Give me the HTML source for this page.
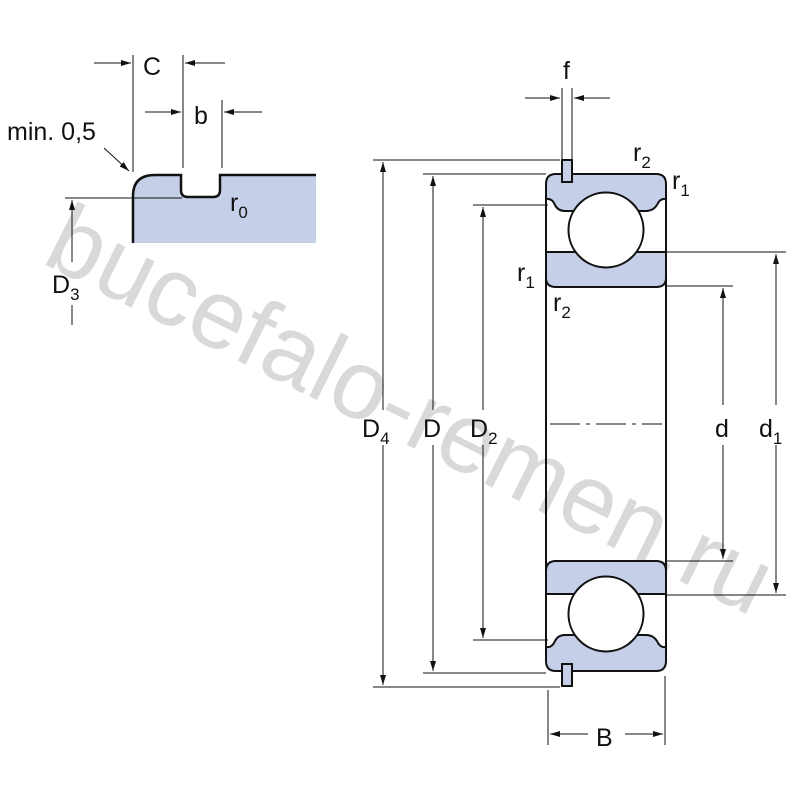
<!DOCTYPE html>
<html><head><meta charset="utf-8"><style>
html,body{margin:0;padding:0;background:#fff;}
svg{display:block;}
text{font-family:"Liberation Sans",sans-serif;fill:#111;}
</style></head><body>
<svg width="800" height="800" viewBox="0 0 800 800" xmlns="http://www.w3.org/2000/svg">
<defs>
<marker id="a" markerWidth="10" markerHeight="6" refX="10" refY="3" orient="auto" markerUnits="userSpaceOnUse"><path d="M0,0 L10,3 L0,6 Z" fill="#111"/></marker>
</defs>
<text x="0" y="0" font-size="98" transform="translate(40,262) rotate(26.5)" style="fill:#d9d9d9">bucefalo-remen.ru</text>

<path d="M133,243 L133,196 Q133,175 155,175 L181,175 L181,190 Q181,197 188,197 L213,197 Q220,197 220,190 L220,175 L316,175 L316,243 Z" fill="#c5d0e8"/>
<path d="M133,243 L133,196 Q133,175 155,175 L181,175 L181,190 Q181,197 188,197 L213,197 Q220,197 220,190 L220,175 L316,175" fill="none" stroke="#111" stroke-width="2.5"/>
<g stroke="#111" stroke-width="1" fill="none">
<line x1="133" y1="55" x2="133" y2="172"/>
<line x1="183" y1="55" x2="183" y2="168"/>
<line x1="222" y1="100" x2="222" y2="168"/>
<line x1="94" y1="63" x2="131" y2="63" marker-end="url(#a)"/>
<line x1="225" y1="63" x2="185" y2="63" marker-end="url(#a)"/>
<line x1="145" y1="112" x2="181" y2="112" marker-end="url(#a)"/>
<line x1="262" y1="112" x2="224" y2="112" marker-end="url(#a)"/>
<line x1="104" y1="148" x2="129" y2="171" marker-end="url(#a)"/>
<line x1="65" y1="198" x2="182" y2="198"/>
<line x1="72" y1="262" x2="72" y2="200" marker-end="url(#a)"/>
<line x1="72" y1="305" x2="72" y2="325"/>
</g>
<text x="143" y="75" font-size="25">C</text>
<text x="194" y="124" font-size="25">b</text>
<text x="7" y="140" font-size="25">min. 0,5</text>
<text x="230" y="211" font-size="25">r<tspan font-size="17" dy="7">0</tspan></text>
<text x="52" y="293" font-size="25">D<tspan font-size="17" dy="7">3</tspan></text>

<g stroke="#111" stroke-width="2">
<path d="M556,174 L656,174 Q666,174 666,184 L666,199 Q660,198 657,205 Q653,211 646,211 L565,211 Q558,211 555,205 Q552,198 546,199 L546,184 Q546,174 556,174 Z" fill="#c5d0e8"/>
<path d="M546,252 L666,252 L666,278 Q666,287 656,287 L556,287 Q546,287 546,278 Z" fill="#c5d0e8"/>
<path d="M556,561 L656,561 Q666,561 666,571 L666,594 L546,594 L546,571 Q546,561 556,561 Z" fill="#c5d0e8"/>
<path d="M546,661 L546,647 Q552,648 555,641 Q558,635 565,635 L646,635 Q653,635 657,641 Q660,648 666,647 L666,661 Q666,671 656,671 L556,671 Q546,671 546,661 Z" fill="#c5d0e8"/>
<line x1="546" y1="184" x2="546" y2="661"/>
<line x1="666" y1="184" x2="666" y2="661"/>
<path d="M574,212 Q563,231 574,250 L580,250 Q572,231 580,212 Z" fill="#c5d0e8" stroke-width="1.2"/>
<path d="M638,212 Q649,231 638,250 L632,250 Q640,231 632,212 Z" fill="#c5d0e8" stroke-width="1.2"/>
<path d="M574,596 Q563,615 574,634 L580,634 Q572,615 580,596 Z" fill="#c5d0e8" stroke-width="1.2"/>
<path d="M638,596 Q649,615 638,634 L632,634 Q640,615 632,596 Z" fill="#c5d0e8" stroke-width="1.2"/>
<circle cx="606" cy="230" r="37.5" fill="#fff"/>
<circle cx="606" cy="614" r="37.5" fill="#fff"/>
<rect x="562" y="160" width="10" height="22" fill="#c5d0e8"/>
<rect x="562" y="664" width="10" height="22" fill="#c5d0e8"/>
</g>
<line x1="550" y1="424" x2="662" y2="424" stroke="#111" stroke-width="1" stroke-dasharray="30,6,4,6"/>

<g stroke="#111" stroke-width="1" fill="none">
<line x1="373" y1="160" x2="560" y2="160"/>
<line x1="373" y1="687" x2="560" y2="687"/>
<line x1="423" y1="174" x2="546" y2="174"/>
<line x1="423" y1="673" x2="546" y2="673"/>
<line x1="473" y1="205" x2="548" y2="205"/>
<line x1="473" y1="640" x2="548" y2="640"/>
<line x1="666" y1="252" x2="786" y2="252"/>
<line x1="666" y1="595" x2="786" y2="595"/>
<line x1="666" y1="286" x2="733" y2="286"/>
<line x1="666" y1="561" x2="733" y2="561"/>
<line x1="383" y1="410" x2="383" y2="162" marker-end="url(#a)"/>
<line x1="383" y1="445" x2="383" y2="685" marker-end="url(#a)"/>
<line x1="433" y1="410" x2="433" y2="176" marker-end="url(#a)"/>
<line x1="433" y1="445" x2="433" y2="671" marker-end="url(#a)"/>
<line x1="483" y1="410" x2="483" y2="207" marker-end="url(#a)"/>
<line x1="483" y1="445" x2="483" y2="638" marker-end="url(#a)"/>
<line x1="723" y1="405" x2="723" y2="288" marker-end="url(#a)"/>
<line x1="723" y1="445" x2="723" y2="559" marker-end="url(#a)"/>
<line x1="776" y1="405" x2="776" y2="254" marker-end="url(#a)"/>
<line x1="776" y1="445" x2="776" y2="593" marker-end="url(#a)"/>
<line x1="562" y1="88" x2="562" y2="160"/>
<line x1="572" y1="88" x2="572" y2="160"/>
<line x1="525" y1="98" x2="560" y2="98" marker-end="url(#a)"/>
<line x1="610" y1="98" x2="574" y2="98" marker-end="url(#a)"/>
<line x1="548" y1="690" x2="548" y2="745"/>
<line x1="665" y1="676" x2="665" y2="745"/>
<line x1="588" y1="734" x2="550" y2="734" marker-end="url(#a)"/>
<line x1="625" y1="734" x2="663" y2="734" marker-end="url(#a)"/>
</g>
<text x="563" y="79" font-size="25">f</text>
<text x="633" y="161" font-size="25">r<tspan font-size="17" dy="7">2</tspan></text>
<text x="672" y="189" font-size="25">r<tspan font-size="17" dy="7">1</tspan></text>
<text x="517" y="281" font-size="25">r<tspan font-size="17" dy="7">1</tspan></text>
<text x="553" y="311" font-size="25">r<tspan font-size="17" dy="7">2</tspan></text>
<text x="362" y="437" font-size="25">D<tspan font-size="17" dy="7">4</tspan></text>
<text x="423" y="437" font-size="25">D</text>
<text x="470" y="437" font-size="25">D<tspan font-size="17" dy="7">2</tspan></text>
<text x="715" y="437" font-size="25">d</text>
<text x="759" y="437" font-size="25">d<tspan font-size="17" dy="7">1</tspan></text>
<text x="596" y="746" font-size="25">B</text>
</svg>
</body></html>
